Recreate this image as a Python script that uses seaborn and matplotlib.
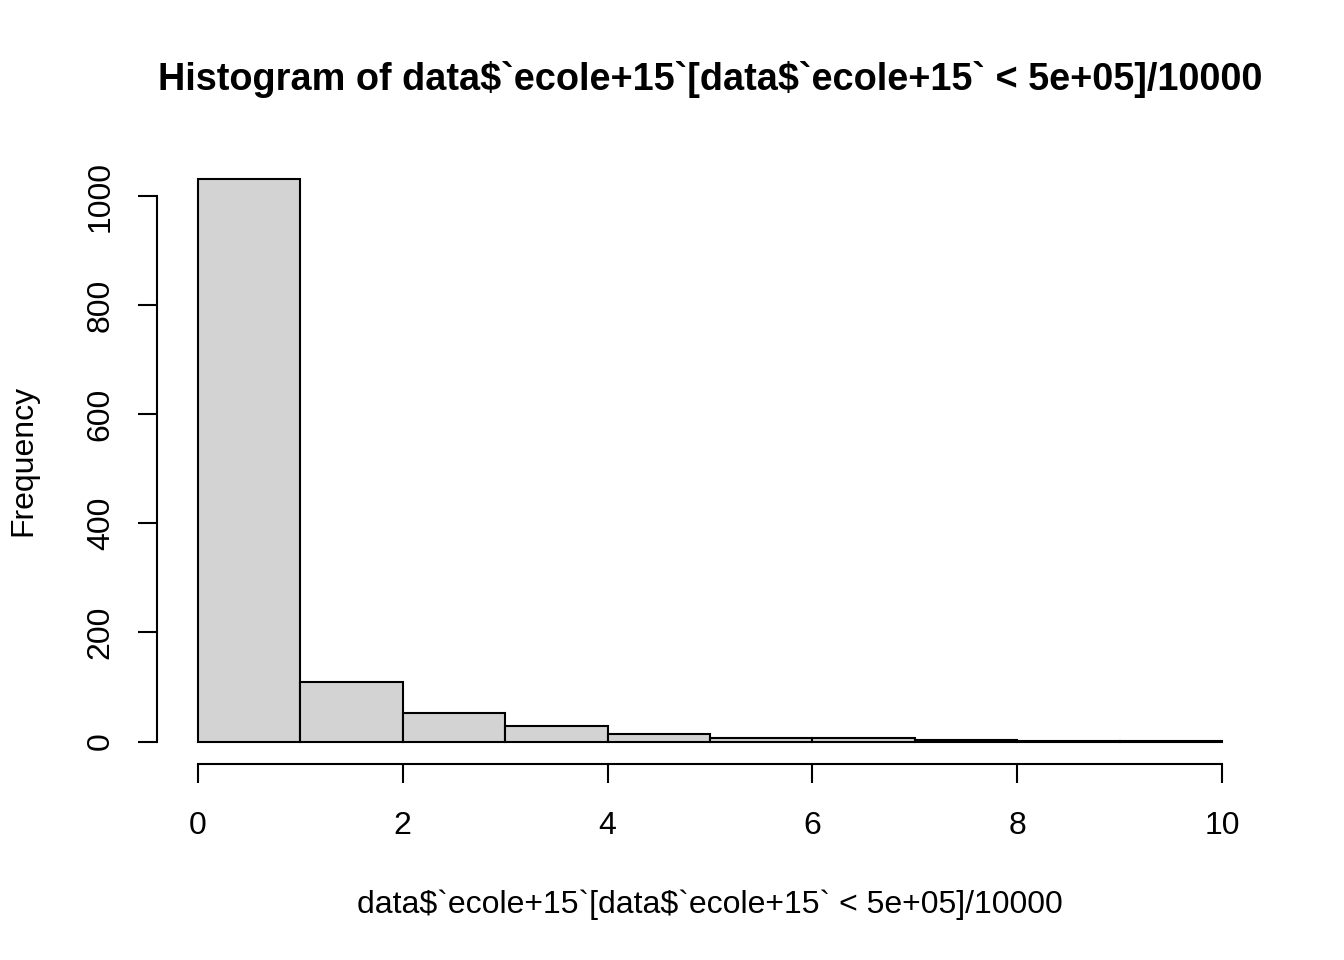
import numpy as np
import pandas as pd
import matplotlib
matplotlib.use("Agg")
import matplotlib.pyplot as plt
import seaborn as sns

# Bin edges and counts
bin_edges = [0, 1, 2, 3, 4, 5, 6, 7, 8, 9, 10]
counts = [1031, 110, 53, 28, 13, 7, 6, 3, 1, 1]
x_ticks = [0, 2, 4, 6, 8, 10]
y_ticks = [0, 200, 400, 600, 800, 1000]

centers = [(a + b) / 2 for a, b in zip(bin_edges[:-1], bin_edges[1:])]
df = pd.DataFrame({"x": centers, "n": counts})

sns.set_style("white")
plt.rcParams['font.family'] = ['Liberation Sans', 'DejaVu Sans']
plt.rcParams['text.parse_math'] = False
plt.rcParams['text.color'] = 'black'
plt.rcParams['axes.labelcolor'] = 'black'
plt.rcParams['xtick.color'] = 'black'
plt.rcParams['ytick.color'] = 'black'

fig = plt.figure(figsize=(13.44, 9.6), dpi=100)
ax = fig.add_axes([157 / 1344, 1 - 764 / 960, (1263 - 157) / 1344, (764 - 157) / 960])

sns.histplot(data=df, x="x", weights="n", bins=bin_edges, ax=ax,
             color="#D3D3D3", edgecolor="black", linewidth=1.5, alpha=1)

ax.set_xlim(-0.4, 10.4)
ax.set_ylim(-0.04 * 1031, 1.04 * 1031)

ax.set_xticks(x_ticks)
ax.set_yticks(y_ticks)
ax.set_xticklabels([str(t) for t in x_ticks], fontsize=23)
ax.set_yticklabels([str(t) for t in y_ticks], fontsize=23, rotation=90, va="center")
ax.tick_params(axis="both", direction="out", length=13.7, width=1.5, color="black",
               bottom=True, left=True)
ax.tick_params(axis="x", pad=20)
ax.tick_params(axis="y", pad=16)

for side in ["top", "right"]:
    ax.spines[side].set_visible(False)
ax.spines["bottom"].set_bounds(0, 10)
ax.spines["left"].set_bounds(0, 1000)
for side in ["bottom", "left"]:
    ax.spines[side].set_linewidth(1.5)
    ax.spines[side].set_color("black")

ax.set_xlabel("data$`ecole+15`[data$`ecole+15` < 5e+05]/10000", fontsize=23, labelpad=35)
ax.set_ylabel("Frequency", fontsize=23, labelpad=34)
fig.suptitle("Histogram of data$`ecole+15`[data$`ecole+15` < 5e+05]/10000",
             fontsize=27.3, fontweight="bold", x=(157 + 1263) / 2 / 1344, y=1 - 80 / 960, va="center")

fig.savefig("out.png", dpi=100)
